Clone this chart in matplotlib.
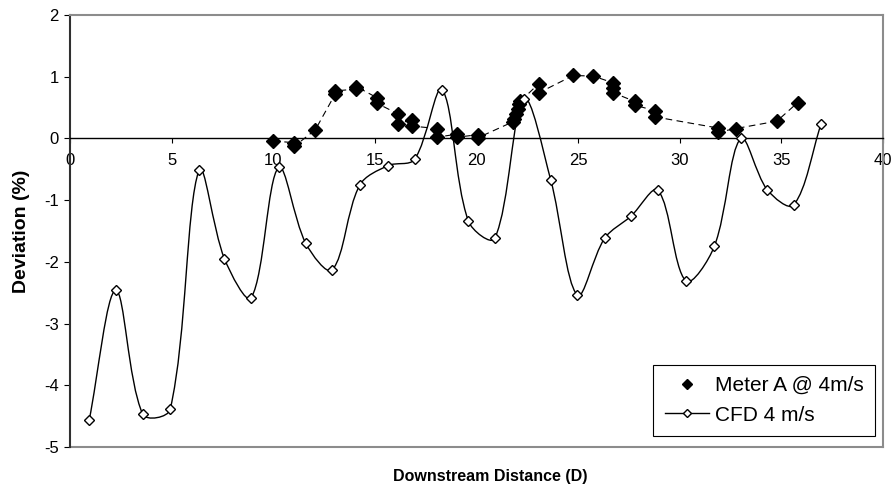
import numpy as np
import matplotlib.pyplot as plt
from matplotlib.path import Path
from matplotlib.patches import PathPatch
from matplotlib.lines import Line2D

plt.rcParams['font.family'] = ['Liberation Sans', 'DejaVu Sans']
plt.rcParams['axes.unicode_minus'] = False

# CFD prediction at 4 m/s
cfd_x = [0.94, 2.25, 3.58, 4.93, 6.35, 7.6, 8.92, 10.26, 11.6, 12.9, 14.25,
         15.65, 16.95, 18.3, 19.6, 20.9, 22.33, 23.65, 24.96, 26.3, 27.6,
         28.93, 30.3, 31.7, 33.0, 34.3, 35.6, 36.95]
cfd_y = [-4.57, -2.46, -4.47, -4.39, -0.51, -1.95, -2.58, -0.47, -1.70, -2.13,
         -0.76, -0.44, -0.34, 0.79, -1.34, -1.62, 0.64, -0.67, -2.54, -1.62,
         -1.26, -0.84, -2.31, -1.75, 0.0, -0.83, -1.08, 0.23]

# Meter A readings at 4 m/s (repeat runs share a station)
meter_x = [10.0, 11.03, 11.03, 12.07, 13.05, 13.05, 14.09, 14.09, 15.1, 15.1,
           16.12, 16.12, 16.83, 16.83, 18.06, 18.06, 19.05, 19.05, 20.06, 20.06,
           21.8, 21.85, 21.95, 22.05, 22.1, 22.15, 23.07, 23.07, 24.76, 25.75,
           26.73, 26.73, 26.73, 27.78, 27.78, 28.77, 28.77, 31.86, 31.86, 32.76,
           34.78, 35.8]
meter_y = [-0.04, -0.07, -0.13, 0.14, 0.72, 0.77, 0.80, 0.84, 0.66, 0.57,
           0.40, 0.24, 0.30, 0.20, 0.16, 0.02, 0.07, 0.02, 0.06, 0.01,
           0.27, 0.32, 0.40, 0.47, 0.55, 0.60, 0.89, 0.74, 1.02, 1.01,
           0.90, 0.82, 0.74, 0.60, 0.54, 0.45, 0.35, 0.17, 0.10, 0.16,
           0.28, 0.58]

x_ticks = [0, 5, 10, 15, 20, 25, 30, 35, 40]
y_ticks = [-5, -4, -3, -2, -1, 0, 1, 2]


def smooth_path(ax, xs, ys):
    # bezier through the points; control arms weighted by on-screen
    # chord lengths so short hops don't overshoot
    p = np.column_stack([xs, ys]).astype(float)
    s = ax.transData.transform(p)
    d = np.hypot(*np.diff(s, axis=0).T)
    n = len(p)
    out_arm = np.zeros_like(p)
    in_arm = np.zeros_like(p)
    for i in range(n):
        a = p[max(i - 1, 0)]
        b = p[min(i + 1, n - 1)]
        t = b - a
        dp = d[i - 1] if i > 0 else 0.0
        dn = d[i] if i < n - 1 else 0.0
        tot = dp + dn
        out_arm[i] = t * dn / tot / 3.0
        in_arm[i] = t * dp / tot / 3.0
    verts = [p[0]]
    codes = [Path.MOVETO]
    for i in range(n - 1):
        verts += [p[i] + out_arm[i], p[i + 1] - in_arm[i + 1], p[i + 1]]
        codes += [Path.CURVE4] * 3
    return Path(verts, codes)


fig = plt.figure(figsize=(8.93, 4.91), dpi=100)
ax = fig.add_axes([70 / 893, 1 - 447 / 491, 813 / 893, 432 / 491])

ax.set_xlim(0, 40)
ax.set_ylim(-5, 2)

frame = '#8c8c8c'
ax.spines['top'].set_color(frame)
ax.spines['right'].set_color(frame)
ax.spines['top'].set_linewidth(1.5)
ax.spines['right'].set_linewidth(1.5)
ax.spines['left'].set_color('#303030')
ax.spines['left'].set_linewidth(1.5)
ax.spines['bottom'].set_position(('data', 0))
ax.spines['bottom'].set_color('black')
ax.spines['bottom'].set_linewidth(1.0)
ax.plot([0, 1], [0, 0], transform=ax.transAxes, color=frame, lw=1.5,
        clip_on=False, zorder=1)

ax.set_xticks(x_ticks)
ax.set_yticks(y_ticks)
ax.tick_params(axis='x', direction='out', length=3.5, width=0.8,
               labelsize=12, pad=7)
ax.tick_params(axis='y', direction='out', length=4, width=0.8,
               labelsize=12, pad=4)

# meter A: dashed guide + solid diamonds
ax.plot(meter_x, meter_y, color='black', lw=0.8, ls=(0, (6, 4)), zorder=2)
ax.plot(meter_x, meter_y, ls='none', marker='D', ms=6.8, color='black',
        zorder=3)

# CFD: smoothed curve with open diamonds
ax.add_patch(PathPatch(smooth_path(ax, cfd_x, cfd_y), fill=False,
                       ec='black', lw=1.0, zorder=2))
ax.plot(cfd_x, cfd_y, ls='none', marker='D', ms=4.6, mfc='white',
        mec='black', mew=1.0, zorder=4)

ax.set_ylabel('Deviation (%)', fontsize=14, fontweight='bold')
ax.yaxis.set_label_coords(-0.049, 0.5)
fig.text(490 / 893, 1 - 476 / 491, 'Downstream Distance (D)', fontsize=11.5,
         fontweight='bold', ha='center', va='center')

handles = [
    Line2D([], [], ls='none', marker='D', ms=5.5, color='black'),
    Line2D([], [], color='black', lw=1.0, marker='D', ms=4.2, mfc='white',
           mec='black'),
]
leg = ax.legend(handles, ['Meter A @ 4m/s', 'CFD 4 m/s'], loc='lower right',
                bbox_to_anchor=(875 / 893, 1 - 436 / 491),
                bbox_transform=fig.transFigure, fontsize=15, frameon=True,
                fancybox=False, edgecolor='black', framealpha=1,
                handlelength=2.1, handletextpad=0.3, borderpad=0.55,
                labelspacing=0.5, borderaxespad=0)
leg.get_frame().set_linewidth(0.8)

plt.savefig('out.png', dpi=100)
